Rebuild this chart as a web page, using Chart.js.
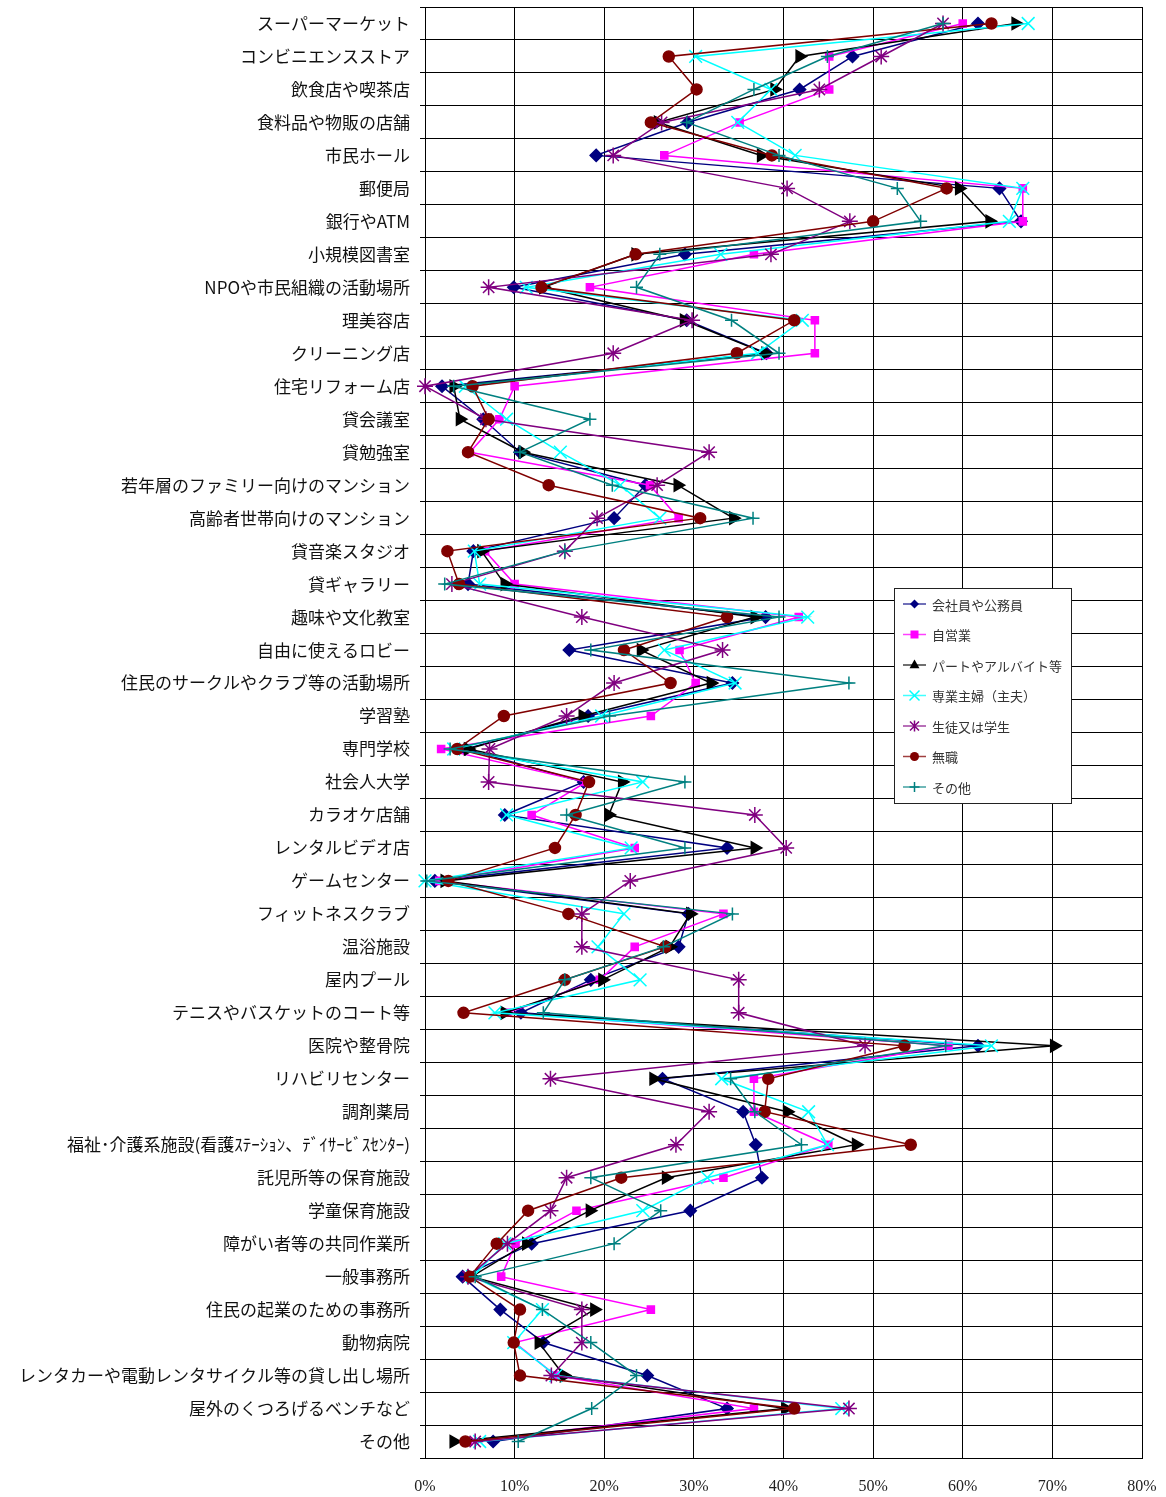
<!DOCTYPE html>
<html>
<head>
<meta charset="utf-8">
<script src="https://cdn.jsdelivr.net/npm/chart.js@4/dist/chart.umd.min.js"></script>
<style>
html,body{margin:0;padding:0;background:#fff;}
#wrap{width:1166px;height:1497px;}
</style>
</head>
<body>
<div id="wrap"><canvas id="c" width="1166" height="1497"></canvas></div>
<script>
const categories = [
  'スーパーマーケット','コンビニエンスストア','飲食店や喫茶店','食料品や物販の店舗','市民ホール',
  '郵便局','銀行やATM','小規模図書室','NPOや市民組織の活動場所','理美容店',
  'クリーニング店','住宅リフォーム店','貸会議室','貸勉強室','若年層のファミリー向けのマンション',
  '高齢者世帯向けのマンション','貸音楽スタジオ','貸ギャラリー','趣味や文化教室','自由に使えるロビー',
  '住民のサークルやクラブ等の活動場所','学習塾','専門学校','社会人大学','カラオケ店舗',
  'レンタルビデオ店','ゲームセンター','フィットネスクラブ','温浴施設','屋内プール',
  'テニスやバスケットのコート等','医院や整骨院','リハビリセンター','調剤薬局',
  '福祉･介護系施設(看護ｽﾃｰｼｮﾝ、ﾃﾞｲｻｰﾋﾞｽｾﾝﾀｰ)',
  '託児所等の保育施設','学童保育施設','障がい者等の共同作業所','一般事務所','住民の起業のための事務所',
  '動物病院','レンタカーや電動レンタサイクル等の貸し出し場所','屋外のくつろげるベンチなど','その他'
];

const seriesNames = ['会社員や公務員','自営業','パートやアルバイト等','専業主婦（主夫）','生徒又は学生','無職','その他'];

const kaishain = [61.7,47.7,41.8,29.3,19.1,64.1,66.5,29.0,9.9,29.2,38.1,1.9,6.5,10.6,24.6,21.1,5.4,4.8,38.0,16.1,34.3,18.2,4.5,17.7,8.9,33.7,1.1,29.4,28.3,18.5,10.7,61.7,26.5,35.5,36.9,37.6,29.6,11.9,4.2,8.4,13.2,24.8,33.7,7.6];
const jieigyo  = [60.0,45.1,45.1,35.1,26.7,66.7,66.7,36.7,18.4,43.5,43.5,10.0,8.3,5.0,25.1,28.3,6.7,10.0,41.7,28.4,30.2,25.2,1.8,18.0,11.9,23.4,1.6,33.3,23.4,19.5,9.2,58.4,36.7,36.7,45.0,33.3,16.9,10.1,8.5,25.2,10.0,14.6,36.7,4.8];
const part     = [65.9,41.8,39.0,26.0,37.5,59.6,63.0,23.5,13.2,28.9,38.0,3.2,3.9,10.9,28.2,34.4,6.3,8.9,36.8,24.1,31.9,17.6,4.8,22.0,20.5,36.8,2.2,29.6,27.3,19.8,8.9,70.2,25.5,40.4,48.1,26.9,18.4,11.3,5.2,18.9,12.7,15.5,40.2,3.2];
const shufu    = [67.3,30.2,38.6,34.9,41.3,66.7,65.2,33.0,11.3,42.1,37.1,4.5,9.1,15.1,21.8,26.2,5.5,6.1,42.7,26.7,34.6,19.7,3.2,24.3,9.1,23.0,0.0,22.2,19.3,24.0,7.8,63.2,33.1,42.8,44.9,31.5,24.3,8.9,5.3,13.1,9.9,14.6,46.5,6.1];
const gakusei  = [57.8,50.9,44.0,26.4,21.0,40.4,47.4,38.6,7.1,29.8,21.0,0.0,6.8,31.7,25.9,19.2,15.6,3.0,17.5,33.2,21.1,15.8,7.2,7.1,36.8,40.3,22.9,17.5,17.5,35.0,35.0,49.1,14.0,31.7,28.0,15.8,14.0,9.2,4.8,17.5,17.5,14.1,47.3,5.6];
const mushoku  = [63.2,27.2,30.3,25.2,38.7,58.2,50.0,23.5,13.0,41.2,34.8,5.3,7.1,4.8,13.8,30.7,2.5,3.8,33.7,22.2,27.4,8.8,3.6,18.3,16.8,14.5,2.6,16.0,26.8,15.6,4.3,53.5,38.3,37.9,54.2,21.9,11.5,8.0,5.0,10.6,9.9,10.6,41.2,4.5];
const sonota   = [57.8,44.9,36.7,29.2,39.5,52.7,55.3,26.2,23.6,34.2,39.5,3.2,18.4,10.6,20.9,36.6,15.6,2.2,39.5,18.5,47.3,20.6,2.8,29.0,15.8,29.0,0.2,34.3,26.6,15.6,13.2,58.1,34.1,36.8,42.0,18.5,26.3,21.1,5.6,13.1,18.5,23.6,18.6,10.4];

const xTicks = [0,10,20,30,40,50,60,70,80];

const seriesData = [kaishain, jieigyo, part, shufu, gakusei, mushoku, sonota];
const colors = ['#000080','#FF00FF','#000000','#00FFFF','#800080','#800000','#008080'];
const styles = ['rectRot','rect','triangle','crossRot','star','circle','cross'];
const radii = [6,5,7,9,8,5.5,6.5];
const rotations = [0,0,90,0,0,0,0];

const datasets = seriesData.map((d,i)=>({
  label: seriesNames[i],
  data: d,
  borderColor: colors[i],
  backgroundColor: colors[i],
  borderWidth: 1.5,
  pointStyle: styles[i],
  pointRadius: radii[i],
  pointHoverRadius: radii[i],
  pointRotation: rotations[i],
  pointBorderWidth: 1.5,
  pointBackgroundColor: colors[i],
  pointBorderColor: colors[i],
  tension: 0,
  fill: false,
  order: 7 - i,
  clip: false
}));

function drawMarker(ctx, style, x, y, r, color){
  ctx.save();
  ctx.fillStyle = color; ctx.strokeStyle = color; ctx.lineWidth = 1.5;
  ctx.beginPath();
  if(style==='rectRot'){
    ctx.moveTo(x, y-r); ctx.lineTo(x+r, y); ctx.lineTo(x, y+r); ctx.lineTo(x-r, y); ctx.closePath(); ctx.fill();
  } else if(style==='rect'){
    ctx.rect(x-r, y-r, 2*r, 2*r); ctx.fill();
  } else if(style==='triangle'){
    ctx.moveTo(x, y-r); ctx.lineTo(x+r*0.9, y+r*0.6); ctx.lineTo(x-r*0.9, y+r*0.6); ctx.closePath(); ctx.fill();
  } else if(style==='crossRot'){
    ctx.moveTo(x-r,y-r); ctx.lineTo(x+r,y+r); ctx.moveTo(x+r,y-r); ctx.lineTo(x-r,y+r); ctx.stroke();
  } else if(style==='star'){
    ctx.moveTo(x-r,y-r); ctx.lineTo(x+r,y+r); ctx.moveTo(x+r,y-r); ctx.lineTo(x-r,y+r);
    ctx.moveTo(x,y-r*1.2); ctx.lineTo(x,y+r*1.2); ctx.stroke();
  } else if(style==='circle'){
    ctx.arc(x,y,r,0,Math.PI*2); ctx.fill();
  } else if(style==='cross'){
    ctx.moveTo(x-r,y); ctx.lineTo(x+r,y); ctx.moveTo(x,y-r); ctx.lineTo(x,y+r); ctx.stroke();
  }
  ctx.restore();
}

const PLOT_TOP = 7;
const fixTop = {
  id: 'fixTop',
  afterLayout(chart){
    const ys = chart.scales.y;
    if (ys && ys.top !== PLOT_TOP) {
      ys.top = PLOT_TOP;
      ys.height = ys.bottom - PLOT_TOP;
      ys.configure();
      chart.chartArea.top = PLOT_TOP;
      chart.chartArea.height = chart.chartArea.bottom - PLOT_TOP;
    }
  }
};

const boxLegend = {
  id: 'boxLegend',
  afterDraw(chart){
    const ctx = chart.ctx;
    const x0 = 894, y0 = 588, w = 177, h = 215;
    ctx.save();
    ctx.fillStyle = '#fff';
    ctx.fillRect(x0, y0, w, h);
    ctx.strokeStyle = '#222';
    ctx.lineWidth = 1;
    ctx.strokeRect(x0+0.5, y0+0.5, w, h);
    const legendR = [4.5,4,5.5,5,4.5,4.5,5];
    chart.data.datasets.forEach((ds,i)=>{
      const y = 604 + i*30.5;
      ctx.strokeStyle = ds.borderColor;
      ctx.globalAlpha = 0.75;
      ctx.lineWidth = 1.5;
      ctx.beginPath(); ctx.moveTo(903, y); ctx.lineTo(926, y); ctx.stroke();
      ctx.globalAlpha = 1;
      drawMarker(ctx, ds.pointStyle, 914.5, y, legendR[i], ds.borderColor);
      ctx.fillStyle = '#333';
      ctx.font = "13px 'Noto Sans CJK JP'";
      ctx.textBaseline = 'middle';
      ctx.textAlign = 'left';
      ctx.fillText(ds.label, 932, y+1);
    });
    ctx.restore();
  }
};

new Chart(document.getElementById('c'), {
  type: 'line',
  data: { labels: categories, datasets },
  options: {
    indexAxis: 'y',
    responsive: false,
    animation: false,
    events: [],
    layout: { padding: { left: 0, top: 7, right: 24, bottom: 0 } },
    plugins: { legend: { display: false }, tooltip: { enabled: false } },
    scales: {
      y: {
        type: 'category',
        offset: true,
        afterFit(scale){ scale.width = 425; },
        grid: { offset: true, color: '#000', lineWidth: 1, drawTicks: true, tickLength: 5 },
        border: { color: '#000', width: 1 },
        ticks: {
          autoSkip: false,
          padding: 10,
          color: '#111',
          font: { family: "'Noto Sans CJK JP'", size: 17 }
        }
      },
      x: {
        type: 'linear',
        min: 0, max: 80,
        afterFit(scale){ scale.height = 39; scale.paddingLeft = 0; scale.paddingRight = 0; },
        afterBuildTicks(scale){ scale.ticks = xTicks.map(v=>({value:v})); },
        grid: { color: '#000', lineWidth: 1, drawTicks: false },
        border: { color: '#000', width: 1 },
        ticks: {
          padding: 19,
          color: '#222',
          font: { family: "'Liberation Serif'", size: 16 },
          callback: v => v + '%'
        }
      }
    }
  },
  plugins: [fixTop, boxLegend]
});
</script>
</body>
</html>
